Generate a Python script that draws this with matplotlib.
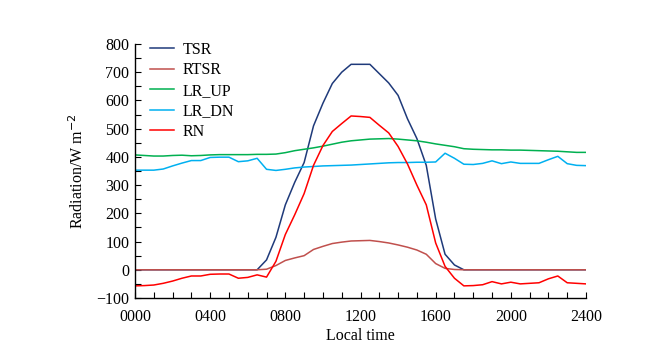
import matplotlib
matplotlib.use("Agg")
import matplotlib.pyplot as plt
from matplotlib.ticker import MultipleLocator
import numpy as np

plt.rcParams['font.family'] = ['Liberation Serif', 'DejaVu Serif']

hours = [i * 0.5 for i in range(49)]

tsr = [0, 0, 0, 0, 0, 0, 0, 0, 0, 0, 0, 0, 0, 0,
       35, 115, 230, 310, 380, 510, 590, 660, 700, 728, 728, 728,
       695, 662, 618, 535, 465, 370, 180, 55, 17, 0,
       0, 0, 0, 0, 0, 0, 0, 0, 0, 0, 0, 0, 0]

rtsr = [0, 0, 0, 0, 0, 0, 0, 0, 0, 0, 0, 0, 0, 0,
        2, 15, 33, 42, 50, 72, 83, 93, 98, 102, 103, 104,
        100, 95, 88, 80, 70, 55, 22, 5, 1, 0,
        0, 0, 0, 0, 0, 0, 0, 0, 0, 0, 0, 0, 0]

lr_up = [407, 405, 403, 403, 405, 406, 404, 405, 407, 408, 408, 408, 408, 409,
         409, 410, 415, 422, 427, 432, 438, 445, 452, 457, 460, 463,
         464, 465, 463, 460, 457, 452, 446, 441, 436, 429,
         427, 426, 425, 425, 424, 424, 423, 422, 421, 420, 418, 416, 416]

lr_dn = [353, 353, 353, 357, 368, 378, 387, 387, 398, 399, 399, 383, 386, 395,
         356, 352, 356, 361, 364, 366, 368, 369, 370, 371, 373, 375,
         377, 379, 380, 380, 381, 381, 382, 413, 395, 374,
         373, 377, 386, 376, 382, 377, 377, 377, 390, 402, 376, 370, 369]

rn = [-57, -56, -54, -48, -40, -30, -22, -22, -16, -15, -15, -30, -27, -18,
      -26, 30, 125, 195, 270, 370, 440, 490, 518, 545, 543, 540,
      512, 485, 437, 375, 300, 230, 95, 12, -30, -57,
      -56, -53, -42, -50, -44, -50, -48, -46, -32, -22, -46, -48, -50]

series = [("TSR", tsr, "#1F3A7A"),
          ("RTSR", rtsr, "#C0504D"),
          ("LR_UP", lr_up, "#00B050"),
          ("LR_DN", lr_dn, "#00B0F0"),
          ("RN", rn, "#FF0000")]

xtick_pos = [0, 4, 8, 12, 16, 20, 24]
xtick_labels = ["0000", "0400", "0800", "1200", "1600", "2000", "2400"]
ytick_pos = [-100, 0, 100, 200, 300, 400, 500, 600, 700, 800]
ytick_labels = ["\u2212100", "0", "100", "200", "300", "400", "500", "600", "700", "800"]

fig = plt.figure(figsize=(6.62, 3.51), dpi=100)
ax = fig.add_axes([135 / 662, 1 - 298 / 351, 451 / 662, 254 / 351])

for name, vals, col in series:
    ax.plot(hours, vals, color=col, lw=1.1, label=name)

ax.set_xlim(0, 24)
ax.set_ylim(-100, 800)
ax.set_xticks(xtick_pos)
ax.set_xticklabels(xtick_labels)
ax.xaxis.set_minor_locator(MultipleLocator(1))
ax.set_yticks(ytick_pos)
ax.set_yticklabels(ytick_labels)
ax.yaxis.set_minor_locator(MultipleLocator(50))

for s in ["top", "right"]:
    ax.spines[s].set_visible(False)
for s in ["left", "bottom"]:
    ax.spines[s].set_linewidth(1.0)

ax.tick_params(which="both", direction="in", labelsize=11.5, width=0.8)
ax.tick_params(which="major", length=4)
ax.tick_params(which="minor", length=4)
ax.tick_params(axis="x", which="major", pad=8)
ax.tick_params(axis="y", which="major", pad=4)

ax.set_xlabel("Local time", fontsize=11.5, labelpad=2)
ax.set_ylabel("Radiation/W m$^{-2}$", fontsize=11.5, labelpad=7)

ax.legend(loc="upper left", bbox_to_anchor=(0.015, 1.04), frameon=False,
          fontsize=11.5, handlelength=1.5, handletextpad=0.55, labelspacing=0.28,
          borderpad=0)

fig.savefig("out.png", dpi=100)
